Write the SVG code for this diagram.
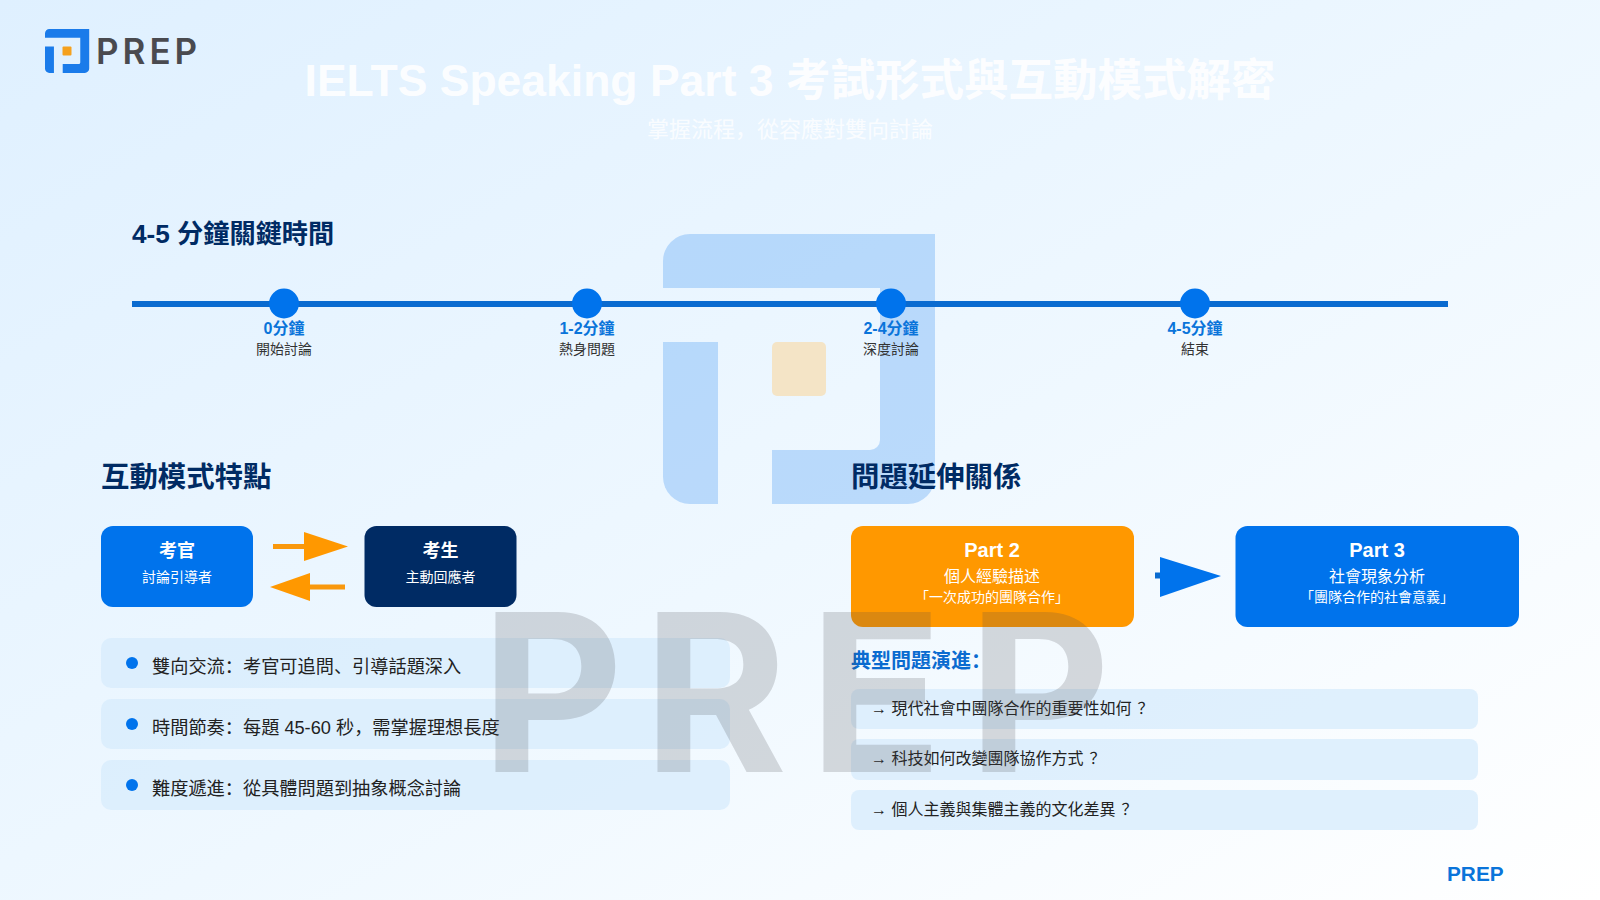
<svg xmlns="http://www.w3.org/2000/svg" width="1600" height="900" viewBox="0 0 1600 900">
<defs>
<linearGradient id="bg" x1="0" y1="0" x2="1" y2="1"><stop offset="0" stop-color="#dff0ff"/><stop offset="0.55" stop-color="#eff8ff"/><stop offset="1" stop-color="#ffffff"/></linearGradient>
<g id="logoMark">
<path d="M0 54V27A27 27 0 0 1 27 0H272V243A27 27 0 0 1 245 270H109V216H207A10 10 0 0 0 217 206V54Z"/>
<path d="M0 108H55V270H27A27 27 0 0 1 0 243Z"/>
</g>
</defs>
<style>
text{font-family:"Liberation Sans","Noto Sans CJK SC",sans-serif}
.h2{font-size:28.400px;font-weight:700;fill:#002B64}
.tm{font-size:16px;font-weight:700;fill:#0A74DA;text-anchor:middle}
.td{font-size:14px;fill:#333;text-anchor:middle}
.dot{fill:#0073EC}
.bar{fill:#D8ECFD;fill-opacity:.8}
.lt{font-size:18.200px;fill:#222}
.qt{font-size:16px;fill:#222}
.w{fill:#fff;text-anchor:middle}
.b{font-size:18px;font-weight:700}
.s{font-size:14px}
.p{font-size:20px;font-weight:700}
.m{font-size:16px}
.c{stroke-width:5;fill:none}
</style>
<rect width="1600" height="900" fill="url(#bg)"/>
<g id="watermark-mark">
<use href="#logoMark" x="663" y="234" fill="#0073EC" fill-opacity=".22"/>
<rect x="772" y="342" width="54" height="54" rx="5" fill="#F4E4C6"/>
</g>
<g id="logo">
<g transform="translate(45 29) scale(.1625)" fill="#1A7BEA"><use href="#logoMark"/></g>
<rect x="62.500" y="46.500" width="9" height="9" rx="1" fill="#F5A11E"/>
<text x="96" y="64" style="font-family:Inter,sans-serif;font-size:35px;font-weight:600;letter-spacing:4px" fill="#4A4A4F">PREP</text>
</g>
<g id="title">
<text x="790" y="96" text-anchor="middle" font-size="44.500" font-weight="700" fill="#fff" fill-opacity=".9">IELTS Speaking Part 3 考試形式與互動模式解密</text>
<text x="790" y="137" text-anchor="middle" font-size="22" fill="#fff" fill-opacity=".8">掌握流程，<tspan>從容應對雙向討論</tspan></text>
</g>
<text class="h2" x="132" y="243" style="font-size:26.200px">4-5 分鐘關鍵時間</text>
<g id="connectors">
<rect x="132" y="301" width="1316" height="6" fill="#0A6BD0"/>
<path class="c" d="M273 546.500H320" stroke="#F9980D"/>
<path d="M304 532L348 546.500L304 561Z" fill="#FF9800"/>
<path class="c" d="M345 587H298" stroke="#F9980D"/>
<path d="M310 573L270 587L310 601Z" fill="#FF9800"/>
<path d="M1155 572.500V578.500H1166V572.500Z" fill="#0A6BD0"/>
<path d="M1160 557L1221 576L1160 597Z" fill="#0073EC"/>
</g>
<g id="t0"><circle class="dot" cx="284" cy="303.500" r="15"/><text class="tm" x="284" y="334">0分鐘</text><text class="td" x="284" y="354">開始討論</text></g>
<g id="t1"><circle class="dot" cx="587" cy="303.500" r="15"/><text class="tm" x="587" y="334">1-2分鐘</text><text class="td" x="587" y="354">熱身問題</text></g>
<g id="t2"><circle class="dot" cx="891" cy="303.500" r="15"/><text class="tm" x="891" y="334">2-4分鐘</text><text class="td" x="891" y="354">深度討論</text></g>
<g id="t3"><circle class="dot" cx="1195" cy="303.500" r="15"/><text class="tm" x="1195" y="334">4-5分鐘</text><text class="td" x="1195" y="354">結束</text></g>
<text class="h2" x="101" y="486.500">互動模式特點</text>
<text class="h2" x="851" y="486.500">問題延伸關係</text>
<g id="examiner"><rect x="101" y="526" width="152" height="81" rx="12" fill="#0073EC"/><text class="w b" x="177" y="557">考官</text><text class="w s" x="177" y="582">討論引導者</text></g>
<g id="candidate"><rect x="364.500" y="526" width="152" height="81" rx="12" fill="#002B64"/><text class="w b" x="440.500" y="557">考生</text><text class="w s" x="440.500" y="582">主動回應者</text></g>
<g id="f1"><rect class="bar" x="101" y="638" width="629" height="50" rx="10"/><circle class="dot" cx="132" cy="663" r="6"/><text class="lt" x="152" y="673">雙向交流：<tspan>考官可追問、</tspan><tspan>引導話題深入</tspan></text></g>
<g id="f2"><rect class="bar" x="101" y="699" width="629" height="50" rx="10"/><circle class="dot" cx="132" cy="724" r="6"/><text class="lt" x="152" y="734">時間節奏：<tspan>每題 45-60 秒，</tspan><tspan>需掌握理想長度</tspan></text></g>
<g id="f3"><rect class="bar" x="101" y="760" width="629" height="50" rx="10"/><circle class="dot" cx="132" cy="785" r="6"/><text class="lt" x="152" y="795">難度遞進：<tspan>從具體問題到抽象概念討論</tspan></text></g>
<g id="part2"><rect x="851" y="526" width="283" height="101" rx="12" fill="#FF9800"/><text class="w p" x="992" y="557">Part 2</text><text class="w m" x="992" y="582">個人經驗描述</text><text class="w s" x="992" y="602">「<tspan>一次成功的團隊合作</tspan><tspan>」</tspan></text></g>
<g id="part3"><rect x="1235.500" y="526" width="283.500" height="101" rx="12" fill="#0073EC"/><text class="w p" x="1377" y="557">Part 3</text><text class="w m" x="1377" y="582">社會現象分析</text><text class="w s" x="1377" y="602">「<tspan>團隊合作的社會意義</tspan><tspan>」</tspan></text></g>
<text x="851" y="668" font-size="20" font-weight="700" fill="#0A6BD0">典型問題演進<tspan>：</tspan></text>
<g id="q1"><rect class="bar" x="851" y="689" width="627" height="40" rx="8"/><text class="qt" x="871" y="714">→ 現代社會中團隊合作的重要性如何<tspan dx="6">？</tspan></text></g>
<g id="q2"><rect class="bar" x="851" y="739" width="627" height="41" rx="8"/><text class="qt" x="871" y="764">→ 科技如何改變團隊協作方式<tspan dx="6">？</tspan></text></g>
<g id="q3"><rect class="bar" x="851" y="790" width="627" height="40" rx="8"/><text class="qt" x="871" y="815">→ 個人主義與集體主義的文化差異<tspan dx="6">？</tspan></text></g>
<text x="1447" y="881" font-size="20.800" font-weight="700" fill="#0A74DA">PREP</text>
<text id="watermark-word" x="481 643 809 968" y="772" style="font-family:Inter,sans-serif;font-size:220px;font-weight:700" fill="#4A4A4F" fill-opacity=".2">PREP</text>
</svg>
